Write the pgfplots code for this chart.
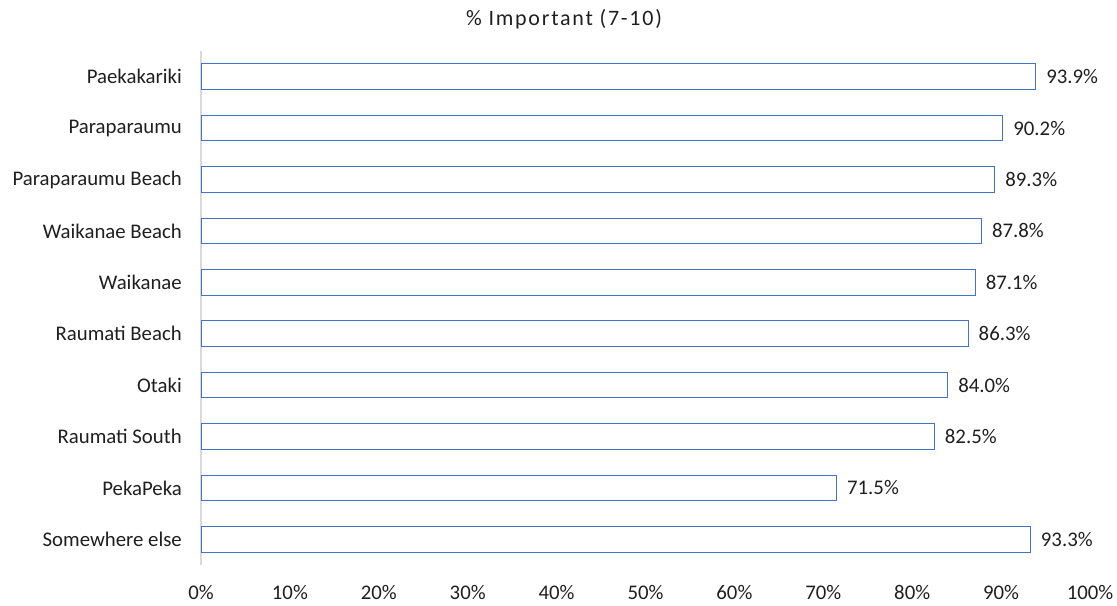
\documentclass[border=0pt]{standalone}
\usepackage{pgfplots}
\pgfplotsset{compat=1.18}
\usepackage{fontspec}
\setmainfont{Carlito}
\definecolor{barblue}{HTML}{4472C4}
\definecolor{txt}{HTML}{1F1F1F}
\definecolor{axgray}{HTML}{D9D9D9}
\begin{document}
\begin{tikzpicture}
\useasboundingbox (0,0) rectangle (1117bp,606bp);
\node[font=\fontsize{22bp}{26bp}\selectfont\addfontfeature{LetterSpace=8}, text=txt, anchor=base] at (564bp,580bp) {\% Important (7-10)};
\begin{axis}[
  at={(201bp,41bp)}, anchor=south west,
  scale only axis, width=889bp, height=514bp,
  xbar, bar width=25.5bp,
  xmin=0, xmax=100, ymin=-0.5, ymax=9.5,
  ytick={0,...,9},
  yticklabels={Somewhere else, PekaPeka, Raumati South, Otaki, Raumati Beach, Waikanae, Waikanae Beach, Paraparaumu Beach, Paraparaumu, Paekakariki},
  xtick={0,10,...,100},
  xticklabel={\pgfmathprintnumber{\tick}\%},
  major tick length=0pt,
  axis x line*=bottom, axis y line*=left,
  x axis line style={draw=none},
  y axis line style={draw=axgray, line width=1.5bp, -},
  tick label style={font=\fontsize{20.8bp}{24bp}\selectfont, text=txt, inner sep=0pt},
  /pgf/number format/assume math mode=true,
  xticklabel style={anchor=north, yshift=-20bp},
  yticklabel style={anchor=east, xshift=-19bp},
  point meta=x,
  nodes near coords={\pgfmathprintnumber[fixed,fixed zerofill,precision=1]{\pgfplotspointmeta}\%},
  nodes near coords style={font=\fontsize{20.8bp}{24bp}\selectfont, text=txt, anchor=west, inner sep=0pt, xshift=10bp},
]
\addplot[draw=barblue, fill=white, line width=1bp] coordinates {
  (93.3,0) (71.5,1) (82.5,2) (84.0,3) (86.3,4) (87.1,5) (87.8,6) (89.3,7) (90.2,8) (93.9,9)
};
\end{axis}
\end{tikzpicture}
\end{document}
